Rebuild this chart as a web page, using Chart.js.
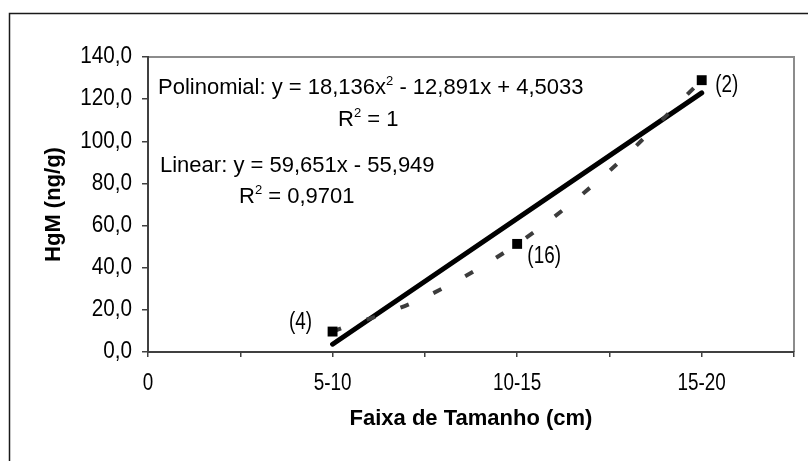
<!DOCTYPE html>
<html><head><meta charset="utf-8">
<script src="https://cdn.jsdelivr.net/npm/chart.js@4.4.1/dist/chart.umd.min.js"></script>
<style>html,body{margin:0;padding:0;background:#fff;}canvas{display:block;}</style>
</head><body>
<canvas id="c" width="808" height="461"></canvas>
<script>
// ---- data ----
const categories = ['0', '5-10', '10-15', '15-20'];
const sampleCounts = ['(4)', '(16)', '(2)'];
const xPositions = [1, 2, 3];
const hgmValues = [9.7, 51.3, 129.0];
const linearTrendX = [1, 3];
const linearTrendY = [3.7, 123.0];
const polyTrendX = [1, 1.5, 2, 2.5, 3];
const polyTrendY = [9.7, 26.0, 51.3, 86.0, 129.0];
const yMin = 0, yMax = 140, yStep = 20;
const xMin = 0, xMax = 3.5, xStep = 0.5;
const polyEq = [['Polinomial: y = 18,136x', false], ['2', true], [' - 12,891x + 4,5033', false]];
const polyR2 = [['R', false], ['2', true], [' = 1', false]];
const linEq = [['Linear: y = 59,651x - 55,949', false]];
const linR2 = [['R', false], ['2', true], [' = 0,9701', false]];
const xTitle = 'Faixa de Tamanho (cm)';
const yTitle = 'HgM (ng/g)';

const SANS = '"Liberation Sans", Arial, sans-serif';

function zip(xs, ys) { return xs.map((x, i) => ({x: x, y: ys[i]})); }

function drawRich(ctx, x, base, parts, size) {
  ctx.textAlign = 'left';
  ctx.textBaseline = 'alphabetic';
  let cx = x;
  for (const [t, sup] of parts) {
    ctx.font = (sup ? Math.round(size * 0.6) : size) + 'px ' + SANS;
    ctx.fillText(t, cx, sup ? base - size * 0.42 : base);
    cx += ctx.measureText(t).width;
  }
}

// condense the tick label glyphs horizontally (the source uses a narrow face)
function condenseLabels(scale, factor) {
  if (scale._condensed === factor) return;
  const orig = Object.getPrototypeOf(scale).drawLabels;
  scale.drawLabels = function (area) {
    const ctx = this.ctx;
    const rot = ctx.rotate;
    ctx.rotate = function (a) { rot.call(ctx, a); ctx.scale(factor, 1); };
    try { orig.call(this, area); } finally { delete ctx.rotate; }
  };
  scale._condensed = factor;
}

const decor = {
  id: 'decor',
  afterLayout(chart) {
    condenseLabels(chart.scales.x, 0.82);
    condenseLabels(chart.scales.y, 0.9);
  },
  beforeDraw(chart) {
    const {ctx, chartArea: a} = chart;
    ctx.save();
    ctx.fillStyle = '#fff';
    ctx.fillRect(0, 0, chart.width, chart.height);
    ctx.strokeStyle = '#1a1a1a';
    ctx.lineWidth = 1.5;
    ctx.beginPath();
    ctx.moveTo(9.5, chart.height); ctx.lineTo(9.5, 13.5); ctx.lineTo(chart.width, 13.5);
    ctx.stroke();
    ctx.strokeStyle = '#8c8c8c';
    ctx.lineWidth = 2;
    ctx.beginPath();
    ctx.moveTo(a.left, a.top); ctx.lineTo(a.right, a.top); ctx.lineTo(a.right, a.bottom);
    ctx.stroke();
    ctx.restore();
  },
  afterDraw(chart) {
    const {ctx, chartArea: a} = chart;
    ctx.save();
    ctx.fillStyle = '#000';
    // equations
    drawRich(ctx, 158, 94, polyEq, 22);
    drawRich(ctx, 338, 126, polyR2, 22);
    drawRich(ctx, 160, 172, linEq, 22);
    drawRich(ctx, 239, 203, linR2, 22);
    // sample counts beside the points (narrow face)
    const pts = chart.getDatasetMeta(0).data;
    const offs = [[-32, -9], [27, 13], [25, 5]];
    ctx.font = '23px ' + SANS;
    ctx.textAlign = 'center';
    ctx.textBaseline = 'middle';
    pts.forEach((p, i) => {
      ctx.save();
      ctx.translate(p.x + offs[i][0], p.y + offs[i][1]);
      ctx.scale(0.82, 1);
      ctx.fillText(sampleCounts[i], 0, 0);
      ctx.restore();
    });
    // axis titles
    ctx.font = 'bold 22px ' + SANS;
    ctx.fillText(xTitle, (a.left + a.right) / 2, 419);
    ctx.translate(54, (a.top + a.bottom) / 2);
    ctx.rotate(-Math.PI / 2);
    ctx.fillText(yTitle, 0, 0);
    ctx.restore();
  }
};

new Chart(document.getElementById('c'), {
  type: 'scatter',
  data: {
    datasets: [
      {
        label: 'HgM',
        data: zip(xPositions, hgmValues),
        pointStyle: 'rect',
        pointRadius: 7,
        pointHoverRadius: 7,
        backgroundColor: '#000',
        borderColor: '#000',
        borderWidth: 0,
        showLine: false,
        order: 0
      },
      {
        label: 'Polinomial',
        data: zip(polyTrendX, polyTrendY),
        showLine: true,
        borderColor: '#3c3c3c',
        borderWidth: 4,
        borderDash: [9, 27],
        cubicInterpolationMode: 'monotone',
        pointRadius: 0,
        order: 1
      },
      {
        label: 'Linear',
        data: zip(linearTrendX, linearTrendY),
        showLine: true,
        borderColor: '#000',
        borderWidth: 5,
        borderCapStyle: 'round',
        pointRadius: 0,
        order: 2
      }
    ]
  },
  options: {
    responsive: false,
    animation: false,
    devicePixelRatio: 1,
    layout: {padding: {left: 0, top: 57, right: 14, bottom: 0}},
    plugins: {legend: {display: false}, tooltip: {enabled: false}},
    scales: {
      x: {
        type: 'linear',
        min: xMin, max: xMax,
        afterFit(s) { s.height = 109; },
        border: {display: true, color: '#404040', width: 2},
        grid: {drawOnChartArea: false, drawTicks: true, tickLength: 5, color: '#404040', lineWidth: 1.5},
        ticks: {
          stepSize: xStep,
          autoSkip: false,
          maxRotation: 0,
          padding: 13,
          color: '#000',
          font: {family: SANS, size: 23},
          callback: (v) => Number.isInteger(v) && categories[v] !== undefined ? categories[v] : ''
        }
      },
      y: {
        min: yMin, max: yMax,
        afterFit(s) { s.width = 148; },
        border: {display: true, color: '#404040', width: 2},
        grid: {drawOnChartArea: false, drawTicks: true, tickLength: 6, color: '#404040', lineWidth: 1.5},
        ticks: {
          stepSize: yStep,
          padding: 10,
          color: '#000',
          font: {family: SANS, size: 23},
          callback: (v) => v.toFixed(1).replace('.', ',')
        }
      }
    }
  },
  plugins: [decor]
});
</script>
</body></html>
